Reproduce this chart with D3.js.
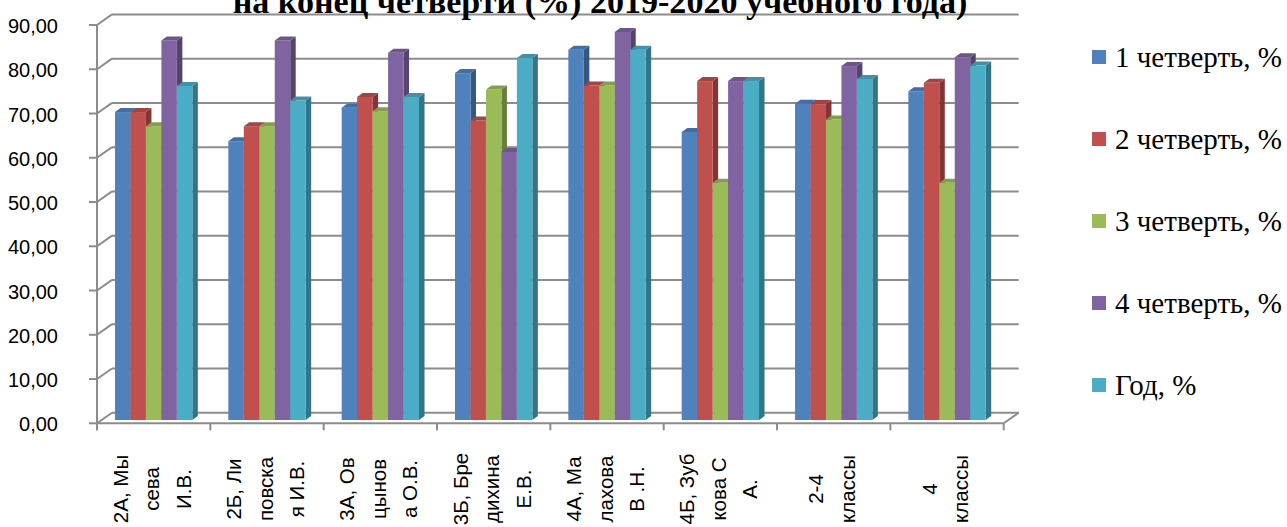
<!DOCTYPE html>
<html>
<head>
<meta charset="utf-8">
<script src="https://cdn.jsdelivr.net/npm/d3@7"></script>
<style>
  html, body { margin: 0; padding: 0; background: #ffffff; }
  svg { display: block; }
</style>
</head>
<body>
<svg id="chart" width="1287" height="527"></svg>
<script>
// ---------------- DATA ----------------
const titleText = "на конец четверти (%) 2019-2020 учебного года)";
const categories = ["2А, Мысева И.В.", "2Б, Липовская И.В.", "3А, Овцынова О.В.", "3Б, Бредихина Е.В.",
                    "4А, Малахова В .Н.", "4Б, Зубкова С А.", "2-4 классы", "4 классы"];
const categoryLines = [
  ["2А, Мы", "сева", "И.В."],
  ["2Б, Ли", "повска", "я И.В."],
  ["3А, Ов", "цынов", "а О.В."],
  ["3Б, Бре", "дихина", "Е.В."],
  ["4А, Ма", "лахова", "В .Н."],
  ["4Б, Зуб", "кова С", "А."],
  ["2-4", "классы"],
  ["4", "классы"]
];
const seriesNames = ["1 четверть, %", "2 четверть, %", "3 четверть, %", "4 четверть, %", "Год, %"];
const q1Values   = [69.6, 63.0, 70.6, 78.4, 83.7, 65.1, 71.5, 74.3];
const q2Values   = [69.6, 66.4, 73.0, 67.7, 75.6, 76.6, 71.4, 76.2];
const q3Values   = [66.4, 66.4, 69.8, 74.7, 75.6, 53.6, 67.9, 53.6];
const q4Values   = [85.8, 85.8, 83.0, 60.6, 87.7, 76.6, 80.0, 82.0];
const yearValues = [75.5, 72.2, 73.0, 81.8, 83.7, 76.6, 77.1, 80.1];
const yTickValues = [0, 10, 20, 30, 40, 50, 60, 70, 80, 90];
const seriesColors = ["#4F81BD", "#C0504D", "#9BBB59", "#8064A2", "#4BACC6"];

const seriesValues = [q1Values, q2Values, q3Values, q4Values, yearValues];

// ---------------- LAYOUT ----------------
const svg = d3.select("#chart");
svg.append("rect").attr("width", 1287).attr("height", 527).attr("fill", "#ffffff");

const frontLeft = 97, frontRight = 1003.7;
const depthX = 15, depthY = -10.6;
const gridColor = "#8c8c8c";

const yFront = d3.scaleLinear().domain([0, 90]).range([423.3, 25]);
const yBack  = d3.scaleLinear().domain([0, 90]).range([423.3 + depthY, 25 + depthY]);
const yBar   = d3.scaleLinear().domain([0, 90]).range([420, 21.8]);

const xCat = d3.scaleBand().domain(categories).range([frontLeft, frontRight]).paddingInner(0).paddingOuter(0);
const barOffset = 18;
const xSer = d3.scaleBand().domain(seriesNames).range([0, xCat.bandwidth() - 2 * barOffset]);

const fmt = v => d3.format(".2f")(v).replace(".", ",");

// ---- walls / gridlines ----
const grid = svg.append("g");
grid.selectAll("line.back").data(yTickValues).join("line")
  .attr("x1", frontLeft + depthX).attr("x2", frontRight + depthX)
  .attr("y1", d => yBack(d)).attr("y2", d => yBack(d))
  .attr("stroke", gridColor).attr("stroke-width", 2);
grid.selectAll("line.side").data(yTickValues).join("line")
  .attr("x1", frontLeft).attr("x2", frontLeft + depthX)
  .attr("y1", d => yFront(d)).attr("y2", d => yBack(d))
  .attr("stroke", gridColor).attr("stroke-width", 2);
grid.append("line")
  .attr("x1", frontLeft).attr("x2", frontRight)
  .attr("y1", yFront(0)).attr("y2", yFront(0))
  .attr("stroke", gridColor).attr("stroke-width", 2);
grid.append("line")
  .attr("x1", frontRight).attr("x2", frontRight + depthX)
  .attr("y1", yFront(0)).attr("y2", yBack(0))
  .attr("stroke", gridColor).attr("stroke-width", 2);
grid.append("line")
  .attr("x1", frontLeft).attr("x2", frontLeft)
  .attr("y1", yFront(0) + 7).attr("y2", yFront(90))
  .attr("stroke", gridColor).attr("stroke-width", 2);
grid.selectAll("line.ytick").data(yTickValues).join("line")
  .attr("x1", frontLeft - 8).attr("x2", frontLeft)
  .attr("y1", d => yFront(d)).attr("y2", d => yFront(d))
  .attr("stroke", gridColor).attr("stroke-width", 2);
const xTickPos = categories.map(c => xCat(c)).concat([frontRight]);
grid.selectAll("line.xtick").data(xTickPos).join("line")
  .attr("x1", d => d).attr("x2", d => d)
  .attr("y1", yFront(0)).attr("y2", yFront(0) + 7)
  .attr("stroke", gridColor).attr("stroke-width", 2);

// y labels
svg.append("g").selectAll("text").data(yTickValues).join("text")
  .attr("x", 58).attr("y", d => yFront(d) + 1)
  .attr("text-anchor", "end").attr("dominant-baseline", "central")
  .attr("font-family", "Liberation Sans, Arial, sans-serif").attr("font-size", 20)
  .attr("fill", "#000").text(d => fmt(d));

// ---- bars ----
const bdx = 5.5, bdy = -4;
const barsG = svg.append("g");
categories.forEach((cat, ci) => {
  seriesNames.forEach((s, si) => {
    const v = seriesValues[si][ci];
    const x0 = xCat(cat) + barOffset + xSer(s);
    const w = xSer.bandwidth();
    const yt = yBar(v), yb = yBar(0);
    const base = d3.color(seriesColors[si]);
    barsG.append("path")
      .attr("d", `M${x0 + w},${yb} L${x0 + w + bdx},${yb + bdy} L${x0 + w + bdx},${yt + bdy} L${x0 + w},${yt} Z`)
      .attr("fill", base.darker(1.1).formatHex());
    barsG.append("rect")
      .attr("x", x0).attr("y", yt).attr("width", w).attr("height", yb - yt)
      .attr("fill", seriesColors[si]);
    barsG.append("path")
      .attr("d", `M${x0},${yt} L${x0 + bdx},${yt + bdy} L${x0 + w + bdx},${yt + bdy} L${x0 + w},${yt} Z`)
      .attr("fill", base.darker(0.45).formatHex());
  });
});

// ---- category labels ----
const lineStep = 31.5;
const catG = svg.append("g");
categories.forEach((cat, ci) => {
  const lines = categoryLines[ci];
  const cx = xCat(cat) + xCat.bandwidth() / 2;
  lines.forEach((ln, li) => {
    const lx = cx + (li - (lines.length - 1) / 2) * lineStep - 2;
    catG.append("text")
      .attr("transform", `translate(${lx},489) rotate(-90)`)
      .attr("text-anchor", "middle").attr("dominant-baseline", "central")
      .attr("font-family", "Liberation Sans, Arial, sans-serif").attr("font-size", 20.5)
      .attr("fill", "#000").text(ln);
  });
});

// ---- legend ----
const legY = d3.scaleLinear().domain([0, seriesNames.length - 1]).range([57, 385]);
const legG = svg.append("g");
seriesNames.forEach((s, i) => {
  legG.append("rect").attr("x", 1092).attr("y", legY(i) - 7).attr("width", 14).attr("height", 14)
    .attr("fill", seriesColors[i]);
  legG.append("text").attr("x", 1115).attr("y", legY(i) + 10)
    .attr("font-family", "Liberation Serif, Times New Roman, serif").attr("font-size", 29)
    .attr("fill", "#000").text(s);
});

// ---- title (clipped at the top edge as in the source) ----
const title = svg.append("text").attr("x", 600).attr("y", 13)
  .attr("text-anchor", "middle")
  .attr("font-family", "Liberation Serif, Times New Roman, serif").attr("font-weight", "bold")
  .attr("font-size", 26).attr("fill", "#000").text(titleText);
const tl = title.node().getComputedTextLength();
title.attr("font-size", 26 * 735 / tl);
</script>
</body>
</html>
